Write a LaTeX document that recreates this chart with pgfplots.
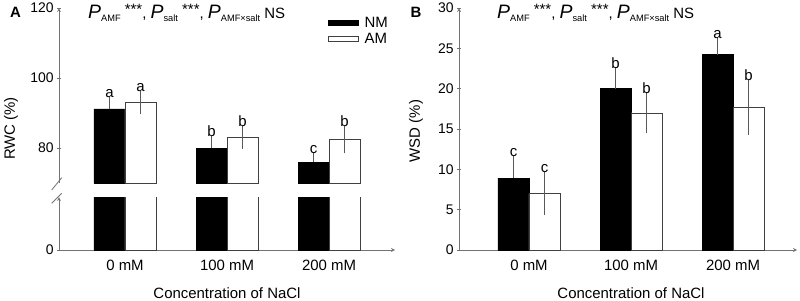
\documentclass[border=0pt]{standalone}
\usepackage{fontspec}
\setmainfont{Liberation Sans}
\usepackage{pgfplots}
\usepackage{pgfplotstable}
\pgfplotsset{compat=1.18}

\pgfplotstableread{
x nm nmerr am amerr nml aml
0 91.2 2.3 93.0 2.2 a a
1 80.0 2.4 83.0 2.2 b b
2 75.9 1.8 82.4 2.9 c b
}\rwc

\pgfplotstableread{
x nm nmerr am amerr nml aml
0 8.9 2.3 7.0 2.2 c c
1 20.0 2.2 17.0 2.1 b b
2 24.2 1.7 17.7 3.0 a b
}\wsd

\definecolor{axgray}{gray}{0.45}
\definecolor{ebgray}{gray}{0.35}

\pgfplotsset{
  common/.style={
    scale only axis, ybar, bar width=31bp,
    axis line style={-, axgray, line width=0.8bp},
    ytick style={axgray, line width=0.8bp},
    xtick style={draw=none},
    tick align=outside, major tick length=3.5bp,
    xtick={0,1,2}, xticklabels={0 mM,100 mM,200 mM},
    xticklabel style={font=\fontsize{15}{16}\selectfont, yshift=-5bp},
    yticklabel style={font=\fontsize{14}{15}\selectfont},
    /pgf/number format/assume math mode=true,
  },
  nmbar/.style={fill=black, draw=black, line width=0.6bp, bar shift=-15.5bp},
  ambar/.style={fill=white, draw=black!75, line width=0.6bp, bar shift=15.5bp},
  ebars/.style={error bars/.cd, y dir=#1, y explicit, error mark=-,
    error bar style={ebgray, line width=0.8bp},
    error mark options={ebgray, line width=0.8bp, mark size=3.5bp}},
  lab/.style={draw=none, fill=none, forget plot, nodes near coords,
    point meta=explicit symbolic,
    nodes near coords style={font=\fontsize{15}{16}\selectfont, anchor=south, inner sep=2.5bp, text=black}},
}

\newcommand{\bigP}{{\fontsize{19.5}{20}\selectfont\textit{P}}}
\newcommand{\sub}[1]{\raisebox{-2.9bp}{\fontsize{9.3}{10}\selectfont #1}}
\newcommand{\stars}{\raisebox{3.5bp}{***}}
\newcommand{\pann}{%
  \bigP\sub{AMF}{\fontsize{15}{16}\selectfont\ \stars, }%
  \bigP\sub{salt}{\fontsize{15}{16}\selectfont\ \stars, }%
  \bigP\sub{AMF×salt}{\fontsize{15}{16}\selectfont\ NS}}

\begin{document}
\begin{tikzpicture}
\useasboundingbox (0bp,0bp) rectangle (800bp,-301bp);

% ---------- Panel A, upper part ----------
\begin{axis}[common, at={(59bp,-183bp)}, anchor=south west,
  width=336bp, height=175bp,
  xmin=-0.647, xmax=2.647, ymin=70, ymax=120,
  axis x line=none, axis y line=left,
  ytick={80,100,120},
  legend style={at={(0.80,0.96)}, anchor=north west, draw=none, fill=none,
    inner sep=0pt, font=\fontsize{15}{16}\selectfont, row sep=0bp,
    column sep=4bp, cells={anchor=west}},
  legend image code/.code={\draw[#1] (0bp,-2.6bp) rectangle (30bp,2.6bp);},
]
\addplot[nmbar, ebars=plus] table[x=x, y=nm, y error=nmerr] {\rwc};
\addlegendentry{NM}
\addplot[ambar, ebars=both] table[x=x, y=am, y error=amerr] {\rwc};
\addlegendentry{AM}
\addplot[lab, bar shift=-15.5bp] table[x=x, y expr=\thisrow{nm}+\thisrow{nmerr}, meta=nml] {\rwc};
\addplot[lab, bar shift=15.5bp] table[x=x, y expr=\thisrow{am}+\thisrow{amerr}, meta=aml] {\rwc};
\end{axis}

% ---------- Panel A, lower part ----------
\begin{axis}[common, at={(59bp,-250bp)}, anchor=south west,
  width=336bp, height=53bp,
  xmin=-0.647, xmax=2.647, ymin=0, ymax=15.14,
  axis x line=bottom, axis y line=left,
  ytick={0},
]
\addplot[nmbar] table[x=x, y=nm] {\rwc};
\addplot[ambar] table[x=x, y=am] {\rwc};
\end{axis}

% axis break marks
\draw[axgray, line width=0.8bp] (51.7bp,-190bp) -- (61.7bp,-177.7bp);
\draw[axgray, line width=0.8bp] (51.7bp,-203.3bp) -- (61.7bp,-193.3bp);

% ---------- Panel B ----------
\begin{axis}[common, at={(459bp,-250bp)}, anchor=south west,
  width=338bp, height=242bp,
  xmin=-0.686, xmax=2.627, ymin=0, ymax=30,
  axis x line=bottom, axis y line=left,
  ytick={0,5,...,30},
]
\addplot[nmbar, ebars=plus] table[x=x, y=nm, y error=nmerr] {\wsd};
\addplot[ambar, ebars=both] table[x=x, y=am, y error=amerr] {\wsd};
\addplot[lab, bar shift=-15.5bp] table[x=x, y expr=\thisrow{nm}+\thisrow{nmerr}, meta=nml] {\wsd};
\addplot[lab, bar shift=15.5bp] table[x=x, y expr=\thisrow{am}+\thisrow{amerr}, meta=aml] {\wsd};
\end{axis}

% ---------- texts ----------
\node[font=\fontsize{15}{16}\selectfont\bfseries] at (15.5bp,-12.5bp) {A};
\node[font=\fontsize{15}{16}\selectfont\bfseries] at (416bp,-12.5bp) {B};
\node[anchor=base west, inner sep=0pt] at (88bp,-18.3bp) {\pann};
\node[anchor=base west, inner sep=0pt] at (497bp,-18.3bp) {\pann};
\node[rotate=90, font=\fontsize{15}{16}\selectfont] at (11bp,-128.5bp) {RWC (\%)};
\node[rotate=90, font=\fontsize{15}{16}\selectfont] at (416bp,-131bp) {WSD (\%)};
\node[anchor=base, inner sep=0pt, font=\fontsize{15}{16}\selectfont] at (227bp,-298.5bp) {Concentration of NaCl};
\node[anchor=base, inner sep=0pt, font=\fontsize{15}{16}\selectfont] at (631bp,-298.5bp) {Concentration of NaCl};
\end{tikzpicture}
\end{document}
